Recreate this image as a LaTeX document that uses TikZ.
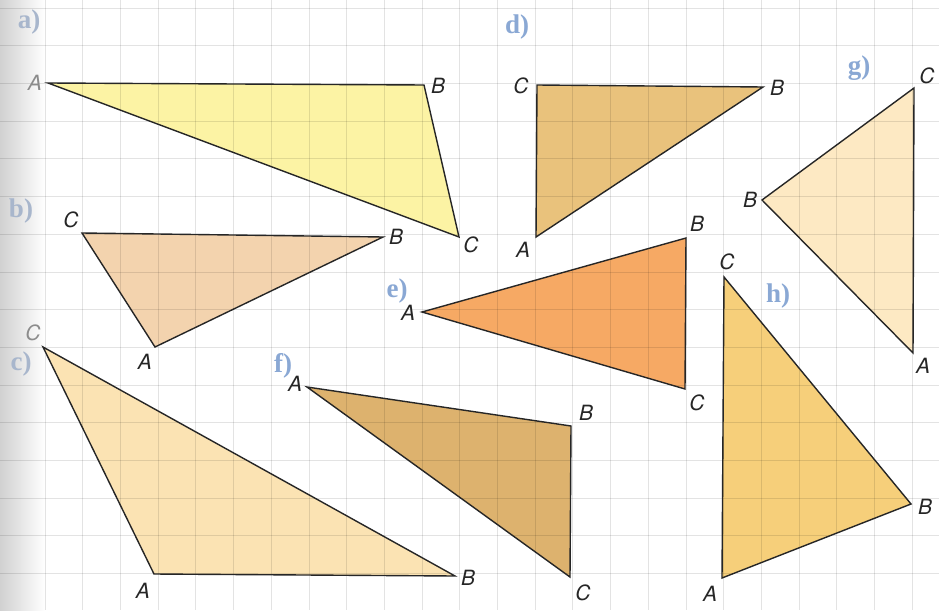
\documentclass[tikz,border=0pt]{standalone}
\usepackage{fontspec}
\newfontfamily\labfont{TeX Gyre Heros}
\newfontfamily\partfont{Liberation Serif}
\definecolor{fa}{HTML}{FCF3A4}
\definecolor{fb}{HTML}{F3D3AE}
\definecolor{fc}{HTML}{FBE3B3}
\definecolor{fd}{HTML}{E9C27C}
\definecolor{fe}{HTML}{F6A964}
\definecolor{ff}{HTML}{DDB26E}
\definecolor{fg}{HTML}{FDE9C3}
\definecolor{fh}{HTML}{F6CF7A}
\definecolor{partblue}{HTML}{8AA8D4}
\definecolor{partfade}{HTML}{A8B6CC}
\begin{document}
\begin{tikzpicture}[x=1pt,y=-1pt,
  vlab/.style={font=\labfont\itshape\fontsize{21}{21}\selectfont, inner sep=0pt, text=black!85},
  vfade/.style={vlab, text=black!45},
  plab/.style={font=\partfont\bfseries\fontsize{27}{27}\selectfont, text=partblue, inner sep=0pt},
  pfade/.style={plab, text=partfade},
  tri/.style={draw=black!85, line width=1.4pt, line join=miter},
  gridline/.style={draw=black, opacity=0.11, line width=0.8pt}]
\useasboundingbox (0,0) rectangle (939,610);
\fill[white] (0,0) rectangle (939,610);
\shade[left color=black!18, right color=white] (0,0) rectangle (45,610);
% vertices
\coordinate (aA) at (48,83);  \coordinate (aB) at (424,85);  \coordinate (aC) at (459,237);
\coordinate (bC) at (82,233); \coordinate (bB) at (383,237); \coordinate (bA) at (155,347);
\coordinate (cC) at (43,347); \coordinate (cA) at (154,574); \coordinate (cB) at (455,576);
\coordinate (dC) at (537,85); \coordinate (dB) at (763,87);  \coordinate (dA) at (536,237);
\coordinate (gC) at (914,88); \coordinate (gB) at (762,200); \coordinate (gA) at (913,353);
\coordinate (eA) at (422,312); \coordinate (eB) at (686,238); \coordinate (eC) at (685,389);
\coordinate (fA) at (307,387); \coordinate (fB) at (571,426); \coordinate (fC) at (570,577);
\coordinate (hC) at (724,277); \coordinate (hB) at (911,504); \coordinate (hA) at (722,578);
% fills
\fill[fa] (aA) -- (aB) -- (aC) -- cycle;
\fill[fb] (bC) -- (bB) -- (bA) -- cycle;
\fill[fc] (cC) -- (cA) -- (cB) -- cycle;
\fill[fd] (dC) -- (dB) -- (dA) -- cycle;
\fill[fg] (gC) -- (gB) -- (gA) -- cycle;
\fill[fe] (eA) -- (eB) -- (eC) -- cycle;
\fill[ff] (fA) -- (fB) -- (fC) -- cycle;
\fill[fh] (hC) -- (hB) -- (hA) -- cycle;
% grid
\foreach \i in {0,...,23} \draw[gridline] ({45+37.7*\i},0) -- ({45+37.7*\i},610);
\foreach \j in {0,...,15} \draw[gridline] (0,{8+37.7*\j}) -- (939,{8+37.7*\j});
% outlines
\draw[tri] (aA) -- (aB) -- (aC) -- cycle;
\draw[tri] (bC) -- (bB) -- (bA) -- cycle;
\draw[tri] (cC) -- (cA) -- (cB) -- cycle;
\draw[tri] (dC) -- (dB) -- (dA) -- cycle;
\draw[tri] (gC) -- (gB) -- (gA) -- cycle;
\draw[tri] (eA) -- (eB) -- (eC) -- cycle;
\draw[tri] (fA) -- (fB) -- (fC) -- cycle;
\draw[tri] (hC) -- (hB) -- (hA) -- cycle;
% vertex labels
\node[vfade] (laA) at (35,83) {A};
\node[vlab] (laB) at (438,86) {B};
\node[vlab] (laC) at (471,245) {C};
\node[vlab] (lbC) at (71,220) {C};
\node[vlab] (lbB) at (396,237) {B};
\node[vlab] (lbA) at (145,362) {A};
\node[vfade] (lcC) at (33,333) {C};
\node[vlab] (lcA) at (143,591) {A};
\node[vlab] (lcB) at (468,578) {B};
\node[vlab] (ldC) at (521,86) {C};
\node[vlab] (ldB) at (777,88) {B};
\node[vlab] (ldA) at (523,250) {A};
\node[vlab] (lgC) at (927,76) {C};
\node[vlab] (lgB) at (750,200) {B};
\node[vlab] (lgA) at (923,366) {A};
\node[vlab] (leA) at (408,313) {A};
\node[vlab] (leB) at (697,224) {B};
\node[vlab] (leC) at (697,403) {C};
\node[vlab] (lfA) at (295,384) {A};
\node[vlab] (lfB) at (586,413) {B};
\node[vlab] (lfC) at (583,593) {C};
\node[vlab] (lhC) at (727,262) {C};
\node[vlab] (lhB) at (925,507) {B};
\node[vlab] (lhA) at (710,594) {A};
% part labels
\node[pfade] (pa) at (29,22) {a)};
\node[pfade] (pb) at (21,211) {b)};
\node[pfade] (pc) at (21,364) {c)};
\node[plab] (pd) at (517,27) {d)};
\node[plab] (pe) at (397,291) {e)};
\node[plab] (pf) at (283,366) {f)};
\node[plab] (pg) at (859,68) {g)};
\node[plab] (ph) at (778,296) {h)};
\end{tikzpicture}
\end{document}
